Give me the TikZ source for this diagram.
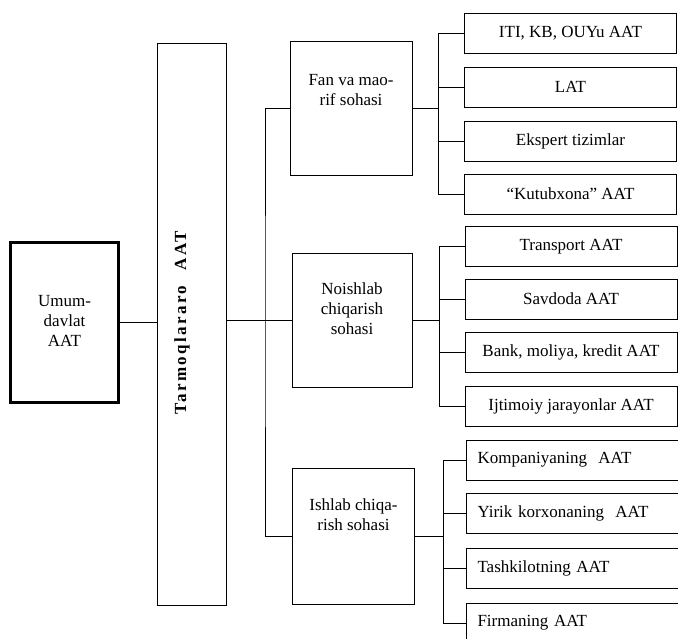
\documentclass[tikz,border=0pt]{standalone}
\usepackage{fontspec}
\setmainfont{Liberation Serif}
\usetikzlibrary{positioning}
\tikzset{
  link/.style={line width=0.9pt},
  pbox/.style={draw, line width=0.9pt, minimum width=122, minimum height=134,
               inner sep=0pt},
  kid/.style={draw, line width=0.9pt, minimum width=212, minimum height=40,
              inner sep=0pt, align=center},
  kidl/.style={kid, text width=190, inner xsep=11, align=left},
  ptext/.style={align=center, inner sep=0pt},
}

\begin{document}
\begin{tikzpicture}[x=1pt, y=-1pt, font=\fontsize{17}{20}\selectfont]
  \useasboundingbox (0,0) rectangle (678,639);
  % ================= left: Umumdavlat and Tarmoqlararo =================
  \node[draw, line width=2.2pt, minimum width=108, minimum height=160]
    (umum) at (64.5,322.5) {};
  \node[ptext] (umumtxt) at (64.5,321) {Umum-\\davlat\\AAT};
  \node[draw, line width=0.9pt, minimum width=69, minimum height=562]
    (tarm) at (191.5,324) {};
  \node[rotate=90, inner sep=0pt,
        font=\fontsize{17}{20}\selectfont\bfseries\addfontfeature{LetterSpace=14}]
    (tarmtxt) at (182,323) {Tarmoqlararo\hspace{0.9em}AAT};
  \draw[link] (umum.east) -- (umum.east -| tarm.west);
  % ================= middle: three sohalar =================
  \node[pbox] (fan) at (351,108.5) {};
  \node[ptext] (fantxt) at (351,90) {Fan va mao-\\rif sohasi};
  \node[pbox, minimum width=120] (nois) at (352,320.5) {};
  \node[ptext] (noistxt) at (352,309) {Noishlab\\chiqarish\\sohasi};
  \node[pbox, minimum height=136] (ishl) at (353.5,536) {};
  \node[ptext] (ishltxt) at (353.5,515) {Ishlab chiqa-\\rish sohasi};
  \coordinate (mbus) at (265,320.5);
  \draw[link] (tarm.east |- nois.west) -- (nois.west);
  \draw[link] (fan.west) -| (mbus) |- (ishl.west);
  % ================= right: Fan va maorif =================
  \node[kid] (iti)   at (570.5,33)  {ITI, KB, OUYu AAT};
  \node[kid] (lat)   at (570.5,87)  {LAT};
  \node[kid] (eksp)  at (570.5,141) {Ekspert tizimlar};
  \node[kid] (kutub) at (570.5,194) {``Kutubxona'' AAT};
  \coordinate[right=26pt of fan.east] (fbus);
  \foreach \k in {iti,lat,eksp,kutub}
    \draw[link] (fan.east) -- (fbus) |- (\k.west);
  % ================= right: Noishlab chiqarish =================
  \node[kid] (trans) at (571,246.5) {Transport AAT};
  \node[kid] (savd)  at (571,299)   {Savdoda AAT};
  \node[kid] (bank)  at (571,352.5) {Bank, moliya, kredit AAT};
  \node[kid] (ijti)  at (571,406.5) {Ijtimoiy jarayonlar AAT};
  \coordinate[right=27pt of nois.east] (nbus);
  \foreach \k in {trans,savd,bank,ijti}
    \draw[link] (nois.east) -- (nbus) |- (\k.west);
  % ================= right: Ishlab chiqarish =================
  \node[kidl] (komp) at (572.5,460)   {Kompaniyaning\ \ AAT};
  \node[kidl] (yiri) at (572.5,513.5) {Yirik korxonaning\ \ AAT};
  \node[kidl] (tash) at (572.5,568)   {Tashkilotning AAT};
  \node[kidl] (firm) at (572.5,623)   {Firmaning AAT};
  \coordinate[right=28pt of ishl.east] (ibus);
  \foreach \k in {komp,yiri,tash,firm}
    \draw[link] (ishl.east) -- (ibus) |- (\k.west);
\end{tikzpicture}
\end{document}
